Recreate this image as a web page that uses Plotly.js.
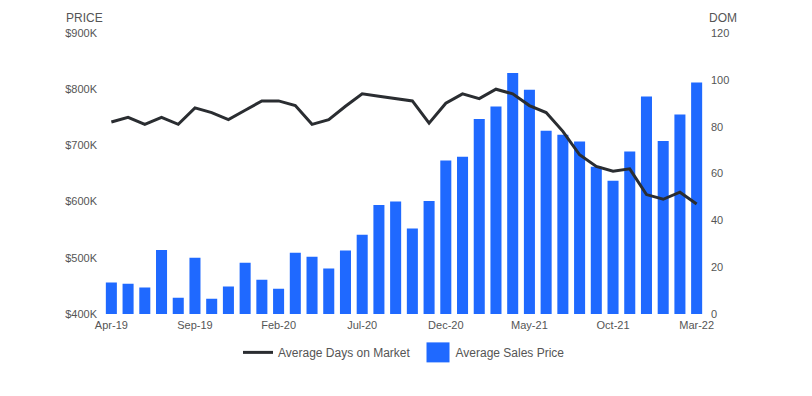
<!DOCTYPE html>
<html>
<head>
<meta charset="utf-8">
<script src="https://cdn.plot.ly/plotly-3.0.1.min.js"></script>
<style>
html,body{margin:0;padding:0;background:#fff;}
#chart{width:812px;height:396px;}
</style>
</head>
<body>
<div id="chart"></div>
<script>
const months = ["Apr-19","May-19","Jun-19","Jul-19","Aug-19","Sep-19","Oct-19","Nov-19","Dec-19",
  "Jan-20","Feb-20","Mar-20","Apr-20","May-20","Jun-20","Jul-20","Aug-20","Sep-20","Oct-20","Nov-20","Dec-20",
  "Jan-21","Feb-21","Mar-21","Apr-21","May-21","Jun-21","Jul-21","Aug-21","Sep-21","Oct-21","Nov-21","Dec-21",
  "Jan-22","Feb-22","Mar-22"];
// Average Sales Price, in $K
const avgSalesPrice = [456,454,447,514,429,500,427,449,491,461,445,509,502,481,513,541,594,600,552,601,
  673,680,747,769,829,799,726,719,707,662,637,689,787,708,755,812];
// Average Days on Market
const avgDaysOnMarket = [82,84,81,84,81,88,86,83,87,91,91,89,81,83,88.7,94,93,92,91,81.5,
  90,94,92,96,94,89,86,78,68,63,61,62,51,49,52,47];
const xTickLabels = ["Apr-19","Sep-19","Feb-20","Jul-20","Dec-20","May-21","Oct-21","Mar-22"];

const data = [
  {
    type: 'scatter', mode: 'lines', name: 'Average Days on Market',
    x: months, y: avgDaysOnMarket, yaxis: 'y2',
    line: {color: '#2a2d31', width: 3}
  },
  {
    type: 'bar', name: 'Average Sales Price',
    x: months, y: avgSalesPrice,
    marker: {color: '#1f69ff'}
  }
];

const FAM = 'Arial, "Liberation Sans", sans-serif';
const tickFont = {family: FAM, size: 11, color: '#555555'};

const layout = {
  width: 812, height: 396,
  margin: {l: 103, r: 107, t: 33, b: 82},
  paper_bgcolor: '#ffffff', plot_bgcolor: '#ffffff',
  font: tickFont,
  showlegend: true,
  bargap: 0.34,
  legend: {orientation: 'h', x: 0.5, xanchor: 'center', y: -0.085, yanchor: 'top',
    font: {family: FAM, size: 12, color: '#555555'}, traceorder: 'normal'},
  xaxis: {
    type: 'category', tickmode: 'array', tickvals: xTickLabels, ticktext: xTickLabels,
    showgrid: false, zeroline: false, showline: false, ticks: '', tickfont: tickFont,
    range: [-0.5, months.length - 0.5], ticklabelstandoff: 3
  },
  yaxis: {
    range: [400, 900], dtick: 100, tick0: 400, tickprefix: '$', ticksuffix: 'K',
    showgrid: false, zeroline: false, showline: false, ticks: '', tickfont: tickFont,
    ticklabelstandoff: 5
  },
  yaxis2: {
    overlaying: 'y', side: 'right', range: [0, 120], dtick: 20,
    showgrid: false, zeroline: false, showline: false, ticks: '', tickfont: tickFont,
    ticklabelstandoff: 5
  },
  annotations: [
    {text: 'PRICE', xref: 'paper', yref: 'paper', x: -0.065, y: 1.022, xanchor: 'left', yanchor: 'bottom',
     showarrow: false, font: {family: FAM, size: 12, color: '#555555'}},
    {text: 'DOM', xref: 'paper', yref: 'paper', x: 1.003, y: 1.022, xanchor: 'left', yanchor: 'bottom',
     showarrow: false, font: {family: FAM, size: 12, color: '#555555'}}
  ]
};

Plotly.newPlot('chart', data, layout, {displayModeBar: false, staticPlot: true}).then(function (gd) {
  // enlarge the bar legend swatch to match the reference's big square
  const pts = gd.querySelectorAll('.legend .traces .legendpoints path.legendundefined, .legend .traces .legendbar path');
  pts.forEach(function (p) { p.setAttribute('d', 'M14,10H-9V-10H14Z'); });
});
</script>
</body>
</html>
